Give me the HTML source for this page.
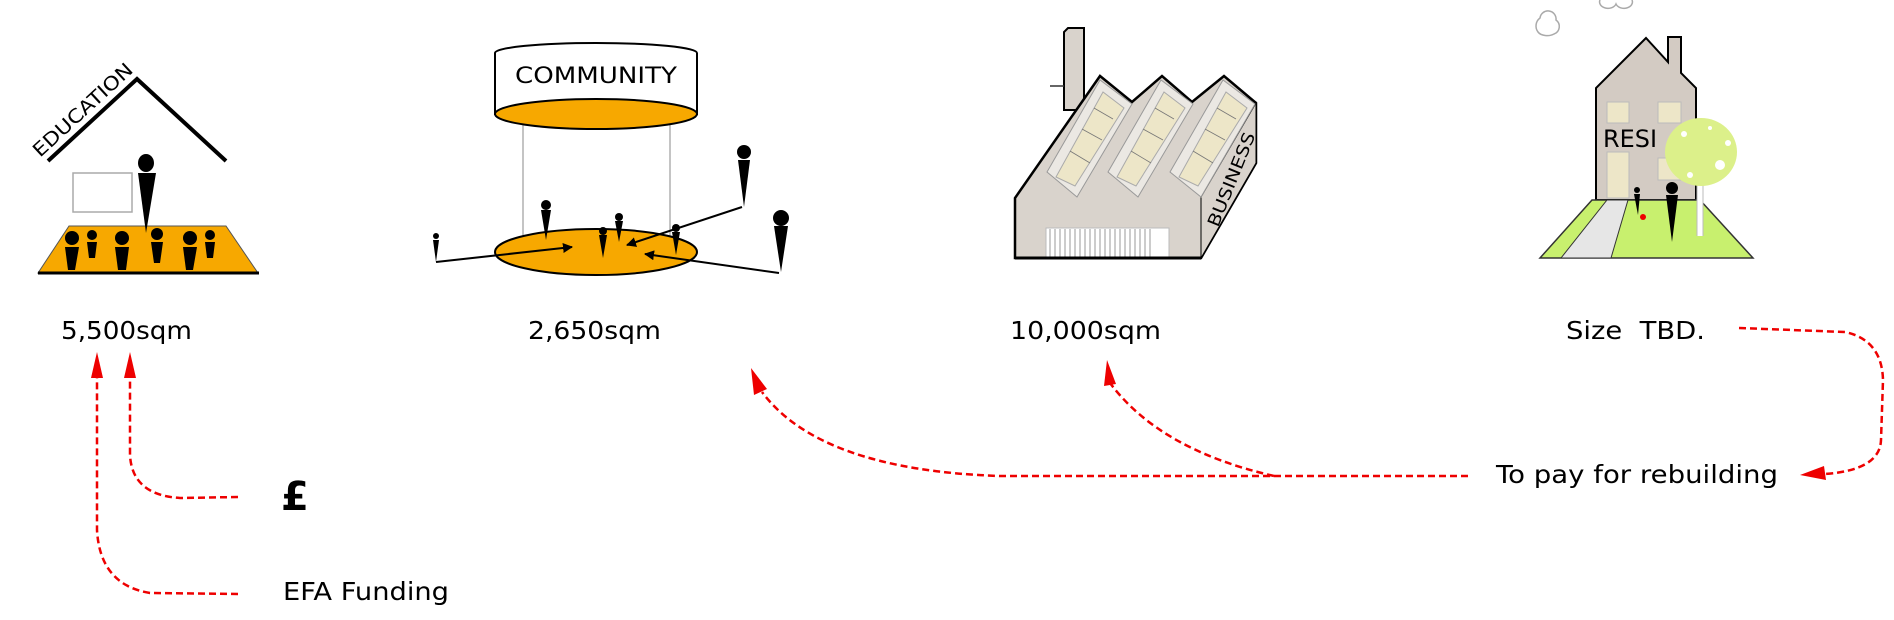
<!DOCTYPE html>
<html><head><meta charset="utf-8"><style>
html,body{margin:0;padding:0;background:#fff;}
svg{display:block;}
text{font-family:"DejaVu Sans","Liberation Sans",sans-serif;}
</style></head><body>
<svg width="1894" height="620" viewBox="0 0 1894 620" xmlns="http://www.w3.org/2000/svg">
<defs>
<marker id="ah" viewBox="0 0 10 10" refX="9" refY="5" markerWidth="10" markerHeight="10" markerUnits="userSpaceOnUse" orient="auto"><path d="M0,0 L10,5 L0,10 z" fill="#000"/></marker>
</defs>

<!-- EDUCATION -->
<polyline points="48,161 137,79 226,161" fill="none" stroke="#000" stroke-width="4"/>
<text x="0" y="0" font-size="19" transform="translate(40,158) rotate(-42.6)" textLength="128" lengthAdjust="spacingAndGlyphs">EDUCATION</text>
<rect x="73" y="173" width="59" height="39" fill="#fff" stroke="#aaa" stroke-width="1.5"/>
<polygon points="69,226 226,226 258,273 38,273" fill="#f7a800" stroke="#555" stroke-width="1"/>
<line x1="38" y1="273" x2="259" y2="273" stroke="#000" stroke-width="3"/>
<ellipse cx="146" cy="163" rx="8" ry="9" fill="#000"/><polygon points="138,173 156,173 146,233" fill="#000"/>
<g fill="#000">
<circle cx="72" cy="238" r="7"/><polygon points="65,247 79,247 75,270 68,270"/>
<circle cx="92" cy="235" r="5"/><polygon points="87,242 97,242 95,258 89,258"/>
<circle cx="122" cy="238" r="7"/><polygon points="115,247 129,247 126,270 118,270"/>
<circle cx="157" cy="234" r="6"/><polygon points="151,242 163,242 160,263 154,263"/>
<circle cx="190" cy="238" r="7"/><polygon points="183,247 197,247 193,270 186,270"/>
<circle cx="210" cy="235" r="5"/><polygon points="205,242 215,242 213,258 207,258"/>
</g>

<!-- COMMUNITY -->
<line x1="523" y1="125" x2="523" y2="245" stroke="#888" stroke-width="1"/>
<line x1="670" y1="125" x2="670" y2="245" stroke="#888" stroke-width="1"/>
<path d="M495,53 A101,10 0 0 1 697,53 L697,114 L495,114 Z" fill="#fff" stroke="#000" stroke-width="2"/>
<ellipse cx="596" cy="114" rx="101" ry="15" fill="#f7a800" stroke="#000" stroke-width="2"/>
<text x="596" y="83" font-size="22" text-anchor="middle" textLength="162" lengthAdjust="spacingAndGlyphs">COMMUNITY</text>
<ellipse cx="596" cy="252" rx="101" ry="23" fill="#f7a800" stroke="#000" stroke-width="2"/>
<g fill="#000">
<circle cx="436" cy="236" r="3"/><polygon points="433,240 439,240 436,262"/>
<circle cx="546" cy="205" r="5"/><polygon points="541,210 551,210 546,240"/>
<circle cx="603" cy="231" r="4"/><polygon points="599,235 607,235 603,258"/>
<circle cx="619" cy="217" r="4"/><polygon points="615,221 623,221 619,242"/>
<circle cx="676" cy="228" r="4"/><polygon points="672,232 680,232 676,255"/>
<circle cx="744" cy="152" r="7"/><polygon points="738,160 750,160 744,207"/>
<circle cx="781" cy="218" r="8"/><polygon points="774,226 788,226 781,272"/>
</g>
<g stroke="#000" stroke-width="2" marker-end="url(#ah)">
<line x1="436" y1="262" x2="572" y2="247"/>
<line x1="742" y1="207" x2="627" y2="245"/>
<line x1="779" y1="273" x2="645" y2="254"/>
</g>

<!-- BUSINESS factory -->
<polygon points="1064,110 1064,32 1068,28 1084,28 1084,110" fill="#d9d3cc" stroke="#000" stroke-width="2"/>
<line x1="1050" y1="86" x2="1064" y2="86" stroke="#333" stroke-width="1.5"/>
<polygon points="1015,258 1015,198 1100,76 1132,102 1162,76 1192,102 1224,76 1256,103 1256,163 1201,258" fill="#d9d3cc" stroke="#000" stroke-width="2.5"/>
<polygon points="1201,197 1256,103 1256,163 1201,258" fill="#d9d3cc" stroke="#000" stroke-width="1"/>
<g>
<polygon points="1047,172 1100,80 1132,104 1077,197" fill="#ebe8e3" stroke="#999" stroke-width="1"/>
<polygon points="1056,177 1103,92 1124,108 1075,186" fill="#ede6c8" stroke="#aaa" stroke-width="1"/>
<polygon points="1108,172 1161,80 1193,104 1138,197" fill="#ebe8e3" stroke="#999" stroke-width="1"/>
<polygon points="1117,177 1164,92 1185,108 1136,186" fill="#ede6c8" stroke="#aaa" stroke-width="1"/>
<polygon points="1170,172 1223,80 1255,104 1201,197" fill="#ebe8e3" stroke="#999" stroke-width="1"/>
<polygon points="1179,177 1226,92 1247,108 1198,186" fill="#ede6c8" stroke="#aaa" stroke-width="1"/>
</g>
<g stroke="#777" stroke-width="0.8">
<line x1="1070" y1="151" x2="1090" y2="163"/><line x1="1082" y1="129" x2="1102" y2="140"/><line x1="1094" y1="108" x2="1113" y2="119"/>
<line x1="1131" y1="151" x2="1151" y2="163"/><line x1="1143" y1="129" x2="1163" y2="140"/><line x1="1155" y1="108" x2="1174" y2="119"/>
<line x1="1193" y1="151" x2="1213" y2="163"/><line x1="1205" y1="129" x2="1225" y2="140"/><line x1="1217" y1="108" x2="1236" y2="119"/>
</g>
<text x="0" y="0" font-size="17" transform="translate(1218,228) rotate(-68)" textLength="100" lengthAdjust="spacingAndGlyphs">BUSINESS</text>
<rect x="1046" y="228" width="123" height="29" fill="#fff" stroke="#bbb" stroke-width="1"/>
<g stroke="#999" stroke-width="1">
<line x1="1050" y1="229" x2="1050" y2="257"/><line x1="1055" y1="229" x2="1055" y2="257"/><line x1="1060" y1="229" x2="1060" y2="257"/><line x1="1065" y1="229" x2="1065" y2="257"/><line x1="1070" y1="229" x2="1070" y2="257"/><line x1="1075" y1="229" x2="1075" y2="257"/><line x1="1080" y1="229" x2="1080" y2="257"/><line x1="1085" y1="229" x2="1085" y2="257"/><line x1="1090" y1="229" x2="1090" y2="257"/><line x1="1095" y1="229" x2="1095" y2="257"/><line x1="1100" y1="229" x2="1100" y2="257"/><line x1="1105" y1="229" x2="1105" y2="257"/><line x1="1110" y1="229" x2="1110" y2="257"/><line x1="1115" y1="229" x2="1115" y2="257"/><line x1="1120" y1="229" x2="1120" y2="257"/><line x1="1125" y1="229" x2="1125" y2="257"/><line x1="1130" y1="229" x2="1130" y2="257"/><line x1="1135" y1="229" x2="1135" y2="257"/><line x1="1140" y1="229" x2="1140" y2="257"/><line x1="1145" y1="229" x2="1145" y2="257"/><line x1="1150" y1="229" x2="1150" y2="257"/>
</g>
<line x1="1015" y1="258" x2="1201" y2="258" stroke="#000" stroke-width="3"/>

<!-- RESI house -->
<g fill="#fff" stroke="#aaa" stroke-width="1.5">
<path d="M1538,32 a10,10 0 0 1 2,-14 a8,8 0 0 1 16,2 a8,8 0 0 1 -2,14 a10,6 0 0 1 -16,-2z"/>
<path d="M1600,0 a8,6 0 0 0 16,4 a8,6 0 0 0 16,-4"/>
</g>
<polygon points="1596,200 1596,88 1646,38 1668,62 1668,37 1681,37 1681,73 1696,88 1696,200" fill="#d3cbc3" stroke="#000" stroke-width="2"/>
<g fill="#ede6c8" stroke="#bbb" stroke-width="1">
<rect x="1607" y="102" width="22" height="21"/><rect x="1658" y="102" width="23" height="21"/>
<rect x="1607" y="152" width="22" height="46"/><rect x="1658" y="158" width="23" height="22"/>
</g>
<text x="1603" y="147" font-size="24" textLength="54" lengthAdjust="spacingAndGlyphs">RESI</text>
<polygon points="1540,258 1592,200 1700,200 1753,258" fill="#c8f06e" stroke="#333" stroke-width="1.5"/>
<polygon points="1561,258 1607,200 1628,200 1611,258" fill="#e6e6e6" stroke="#333" stroke-width="1"/>
<path d="M1700,182 L1700,236" stroke="#fff" stroke-width="6"/>
<path d="M1697,182 L1697,236 M1703,182 L1703,236" stroke="#bbb" stroke-width="1" fill="none"/>
<ellipse cx="1701" cy="152" rx="36" ry="34" fill="#dcf08a"/>
<g fill="#fff"><circle cx="1684" cy="134" r="3"/><circle cx="1720" cy="165" r="5"/><circle cx="1690" cy="175" r="3"/><circle cx="1710" cy="128" r="2"/><circle cx="1728" cy="143" r="3"/></g>
<circle cx="1637" cy="190" r="3" fill="#000"/><polygon points="1634,194 1640,194 1638,215" fill="#000"/>
<circle cx="1643" cy="217" r="3" fill="#e00"/>
<circle cx="1672" cy="188" r="6" fill="#000"/><polygon points="1666,195 1678,195 1672,242" fill="#000"/>

<!-- labels -->
<g font-size="25" fill="#000">
<text x="61" y="339" textLength="131" lengthAdjust="spacingAndGlyphs">5,500sqm</text>
<text x="528" y="339" textLength="133" lengthAdjust="spacingAndGlyphs">2,650sqm</text>
<text x="1010" y="339" textLength="151" lengthAdjust="spacingAndGlyphs">10,000sqm</text>
<text x="1566" y="339" textLength="139" lengthAdjust="spacingAndGlyphs" xml:space="preserve">Size  TBD.</text>
<text x="1496" y="483" textLength="282" lengthAdjust="spacingAndGlyphs">To pay for rebuilding</text>
<text x="283" y="600" textLength="166" lengthAdjust="spacingAndGlyphs">EFA Funding</text>
</g>
<text x="281" y="510" font-size="40" font-weight="bold">£</text>

<!-- red dashed connectors -->
<g fill="none" stroke="#e00" stroke-width="2.5" stroke-dasharray="7,4">
<path d="M238,594 L150,593 Q100,585 97,530 L97,375"/>
<path d="M238,497 L180,498 Q132,495 130,455 L130,375"/>
<path d="M1468,476 L1000,476 Q820,470 762,392"/>
<path d="M1274,476 Q1160,450 1110,383"/>
<path d="M1739,328 L1845,332 Q1882,340 1883,380 L1881,440 Q1880,470 1825,474"/>
</g>
<g fill="#e00">
<polygon points="97,352 91,378 103,378"/>
<polygon points="130,352 124,378 136,378"/>
<polygon points="751,368 754,395 767,389"/>
<polygon points="1107,360 1104,386 1116,384"/>
<polygon points="1800,475 1824,466 1826,480"/>
</g>
</svg>
</body></html>
